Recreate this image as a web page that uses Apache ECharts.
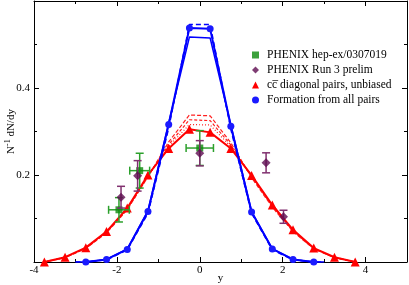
<!DOCTYPE html>
<html><head><meta charset="utf-8">
<script src="https://cdn.jsdelivr.net/npm/echarts@6/dist/echarts.min.js"></script>
<style>html,body{margin:0;padding:0;background:#fff}#c{width:409px;height:285px}</style>
</head><body><div id="c"></div>
<script>
// ---- data ----
var xBlue = [-2.75,-2.25,-1.75,-1.25,-0.75,-0.25,0.25,0.75,1.25,1.75,2.25,2.75];
var blueMain = [0,0.006,0.029,0.116,0.316,0.538,0.536,0.312,0.115,0.030,0.006,0];
var xBlueAlt = [-3,-2.75,-2.25,-1.75,-1.25,-0.75,-0.25,0.25,0.75,1.25,1.75,2.25,2.75,3];
var blueAltA = [0,0,0.006,0.030,0.118,0.320,0.517,0.515,0.315,0.116,0.030,0.006,0,0];
var blueAltB = [0,0,0.005,0.028,0.112,0.308,0.546,0.546,0.305,0.112,0.028,0.005,0,0];
var xRed = [-3.75,-3.25,-2.75,-2.25,-1.75,-1.25,-0.75,-0.25,0.25,0.75,1.25,1.75,2.25,2.75,3.25,3.75];
var redMain = [0,0.011,0.033,0.070,0.124,0.200,0.261,0.305,0.298,0.261,0.199,0.131,0.074,0.032,0.011,0];
var redAltA = [0,0.010,0.031,0.067,0.120,0.196,0.276,0.338,0.336,0.274,0.194,0.126,0.070,0.030,0.010,0];
var redAltB = [0,0.010,0.032,0.068,0.122,0.198,0.270,0.327,0.325,0.269,0.196,0.128,0.071,0.031,0.010,0];
var redAltC = [0,0.011,0.032,0.069,0.121,0.197,0.266,0.316,0.315,0.265,0.197,0.129,0.072,0.031,0.011,0];
var greenX = [-1.95,-1.45,0.0];
var greenY = [0.120,0.210,0.262];
var greenXErr = [0.25,0.24,0.33];
var greenYErr = [0.028,0.040,0.040];
var purpleX = [-1.9,-1.5,0.0,1.6,2.02];
var purpleY = [0.149,0.198,0.250,0.228,0.104];
var purpleYErr = [0.025,0.035,0.029,0.023,0.015];
var xTicks = [-4,-2,0,2,4];
var yTicks = [0.2,0.4];
var legendNames = ['PHENIX hep-ex/0307019','PHENIX Run 3 prelim','cc\u0305 diagonal pairs, unbiased','Formation from all pairs'];

function pairs(xs, ys){ return xs.map(function(x,i){return [x, ys[i]];}); }
var FONT = 'Liberation Serif';

function errRender(color, cap){
  return function(params, api){
    var x = api.value(0), y = api.value(1), xe = api.value(2), ye = api.value(3);
    var ch = [];
    var st = {stroke: color, lineWidth: 1.5};
    if (ye > 0){
      var t = api.coord([x, y+ye]), b = api.coord([x, y-ye]);
      ch.push({type:'line', shape:{x1:t[0],y1:t[1],x2:b[0],y2:b[1]}, style:st});
      ch.push({type:'line', shape:{x1:t[0]-cap,y1:t[1],x2:t[0]+cap,y2:t[1]}, style:st});
      ch.push({type:'line', shape:{x1:b[0]-cap,y1:b[1],x2:b[0]+cap,y2:b[1]}, style:st});
    }
    if (xe > 0){
      var l = api.coord([x-xe, y]), r = api.coord([x+xe, y]);
      ch.push({type:'line', shape:{x1:l[0],y1:l[1],x2:r[0],y2:r[1]}, style:st});
      ch.push({type:'line', shape:{x1:l[0],y1:l[1]-cap,x2:l[0],y2:l[1]+cap}, style:st});
      ch.push({type:'line', shape:{x1:r[0],y1:r[1]-cap,x2:r[0],y2:r[1]+cap}, style:st});
    }
    return {type:'group', children: ch};
  };
}

var chart = echarts.init(document.getElementById('c'), null, {renderer:'canvas'});
var axisCommon = {
  axisLine:{show:true, onZero:false, lineStyle:{color:'#000', width:1}},
  axisTick:{show:true, inside:true, length:5, lineStyle:{color:'#000'}},
  minorTick:{show:true, splitNumber:2, length:3, lineStyle:{color:'#000'}},
  splitLine:{show:false}
};
var option = {
  animation:false,
  backgroundColor:'#fff',
  grid:{left:34, right:2, top:1, bottom:23, containLabel:false, outerBoundsMode:'none'},
  legend:{
    orient:'vertical', left:247, top:44, itemWidth:7, itemHeight:7, itemGap:3,
    textStyle:{fontFamily:FONT, fontSize:11.5, color:'#000', padding:[0,0,0,3]},
    data:[
      {name:legendNames[0], icon:'rect', itemStyle:{color:'#0b8a0b'}},
      {name:legendNames[1], icon:'diamond', itemStyle:{color:'#5e0b50'}},
      {name:legendNames[2], icon:'triangle', itemStyle:{color:'#ff0000'}},
      {name:legendNames[3], icon:'circle', itemStyle:{color:'#1a1aff'}}
    ]
  },
  xAxis:[
    Object.assign({type:'value', min:-4, max:5, interval:2, position:'bottom',
      name:'y', nameLocation:'middle', nameGap:11, nameMoveOverlap:false,
      nameTextStyle:{fontFamily:FONT, fontSize:11, color:'#000'},
      axisLabel:{fontFamily:FONT, fontSize:11, color:'#000', margin:3,
        formatter:function(v){ return xTicks.indexOf(v) >= 0 ? String(v) : ''; }}}, axisCommon),
    Object.assign({type:'value', min:-4, max:5, interval:2, position:'top',
      axisLabel:{show:false}}, axisCommon)
  ],
  yAxis:[
    Object.assign({type:'value', min:0, max:0.6, interval:0.2, position:'left',
      name:'{n|N}{s|-1}{n| dN/dy}', nameLocation:'middle', nameGap:16, nameRotate:90, nameMoveOverlap:false,
      nameTextStyle:{rich:{n:{fontFamily:FONT, fontSize:11, color:'#000'}, s:{fontFamily:FONT, fontSize:8, color:'#000', verticalAlign:'top', padding:[0,0,6,0]}}},
      axisLabel:{fontFamily:FONT, fontSize:11, color:'#000', margin:4,
        formatter:function(v){ for (var i=0;i<yTicks.length;i++){ if (Math.abs(v-yTicks[i])<1e-6) return yTicks[i].toFixed(1);} return ''; }}}, axisCommon),
    Object.assign({type:'value', min:0, max:0.6, interval:0.2, position:'right',
      axisLabel:{show:false}}, axisCommon)
  ],
  series:[
    {name:'redA', type:'line', data:pairs(xRed, redAltA), symbol:'none', z:2,
      lineStyle:{color:'#ff2020', width:1.2, type:[4,2]}},
    {name:'redB', type:'line', data:pairs(xRed, redAltB), symbol:'none', z:2,
      lineStyle:{color:'#ff2020', width:1.2, type:[3,2]}},
    {name:'redC', type:'line', data:pairs(xRed, redAltC), symbol:'none', z:2,
      lineStyle:{color:'#ff2020', width:1.2, type:[1,2]}},
    {name:legendNames[2], type:'line', data:pairs(xRed, redMain), symbol:'triangle', symbolSize:9, z:3,
      lineStyle:{color:'#ff0000', width:2}, itemStyle:{color:'#ff0000'}},
    {name:'blueA', type:'line', data:pairs(xBlueAlt, blueAltA), symbol:'none', z:3,
      lineStyle:{color:'#0000ff', width:1.5}},
    {name:'blueB', type:'line', data:pairs(xBlueAlt, blueAltB), symbol:'none', z:3,
      lineStyle:{color:'#0000ff', width:1.5, type:[5,3]}},
    {name:legendNames[3], type:'line', data:pairs(xBlue, blueMain), symbol:'circle', symbolSize:7, z:4,
      lineStyle:{color:'#0000ff', width:2}, itemStyle:{color:'#1a1aff'}},
    {name:'greenErr', type:'custom', z:5,
      data: greenX.map(function(x,i){return [x, greenY[i], greenXErr[i], greenYErr[i]];}),
      renderItem: errRender('#2ca02c', 4)},
    {name:legendNames[0], type:'scatter', symbol:'rect', symbolSize:7, z:6,
      data:pairs(greenX, greenY), itemStyle:{color:'#0b8a0b'}},
    {name:'purpleErr', type:'custom', z:7,
      data: purpleX.map(function(x,i){return [x, purpleY[i], 0, purpleYErr[i]];}),
      renderItem: errRender('#80306f', 4)},
    {name:legendNames[1], type:'scatter', symbol:'diamond', symbolSize:9, z:8,
      data:pairs(purpleX, purpleY), itemStyle:{color:'#5e0b50'}}
  ]
};
chart.setOption(option);
</script></body></html>
